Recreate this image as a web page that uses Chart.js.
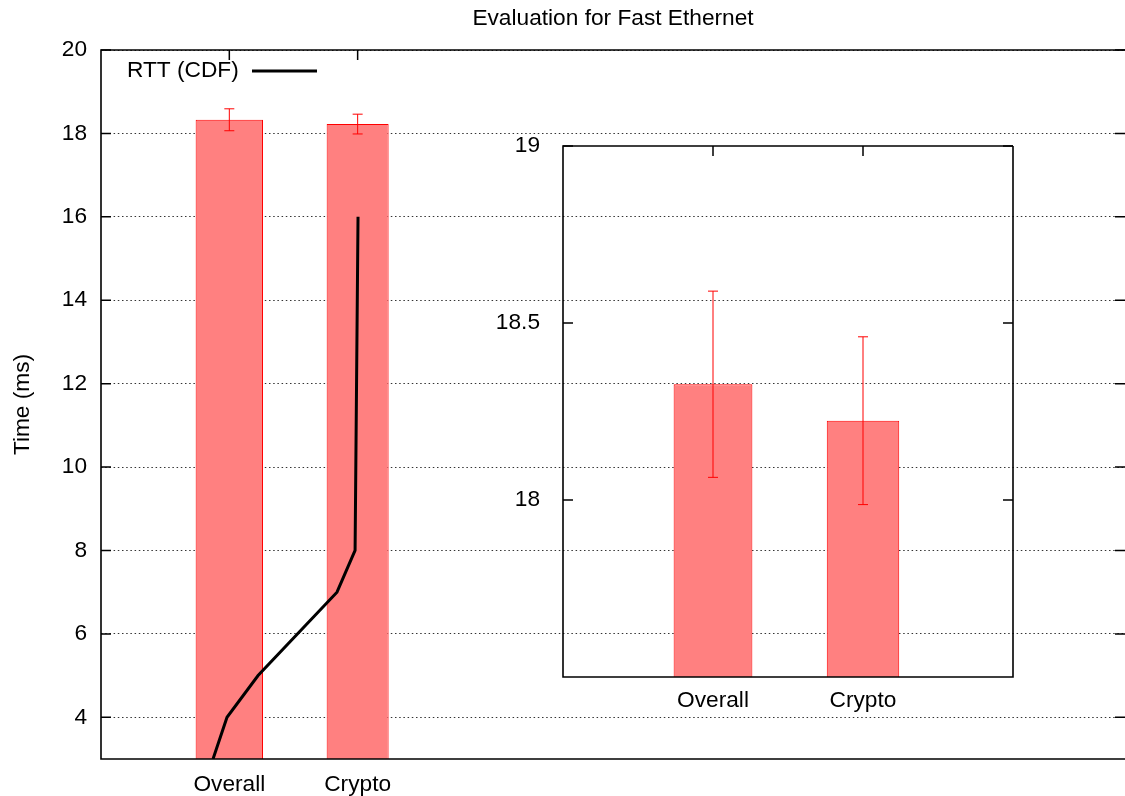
<!DOCTYPE html>
<html>
<head>
<meta charset="utf-8">
<title>Evaluation for Fast Ethernet</title>
<script src="https://cdn.jsdelivr.net/npm/chart.js@4.4.1/dist/chart.umd.min.js"></script>
<style>
  html, body { margin: 0; padding: 0; background: #fff; }
  #wrap { position: relative; width: 1125px; height: 796px; overflow: hidden; }
  #wrap canvas { position: absolute; left: 0; top: 0; }
</style>
</head>
<body>
<div id="wrap">
  <canvas id="main" width="1125" height="796"></canvas>
  <canvas id="inset" width="1125" height="796"></canvas>
</div>
<script>
// ---- data ----
const categories = ['Overall', 'Crypto'];
const categoryX = [1, 2];
const meanTime = [18.327, 18.224];     // mean RTT (ms)
const errTime = [0.263, 0.237];        // error bar half-length (ms)
const cdfX = [0.873, 0.982, 1.224, 1.839, 1.980, 2.003];
const cdfY = [3, 4, 5, 7, 8, 16];
const mainYTicks = [4, 6, 8, 10, 12, 14, 16, 18, 20];
const insetYTicks = [18, 18.5, 19];

// ---- styles ----
const FONT_FAMILY = "'Liberation Sans', Arial, Helvetica, sans-serif";
const FONT_SIZE = 22.7;
const FONT = { family: FONT_FAMILY, size: FONT_SIZE, weight: 'normal' };
const BAR_FILL = 'rgb(255,128,128)';
const BAR_EDGE = 'rgb(255,0,0)';
const BAR_FRACTION = [0.525, 0.483];
const TICK_LEN = 10;
const CAP_HALF = 5;

Chart.defaults.font.family = FONT_FAMILY;
Chart.defaults.color = '#000';

function barDatasets() {
  return categories.map((name, i) => ({
    type: 'bar',
    label: name,
    data: [{ x: categoryX[i], y: meanTime[i] }],
    backgroundColor: BAR_FILL,
    borderColor: BAR_EDGE,
    borderWidth: 1,
    borderSkipped: 'start',
    grouped: false,
    categoryPercentage: 1,
    barPercentage: BAR_FRACTION[i]
  }));
}

// inward tick marks, error bars, frame and (optionally) the key
function framePlugin(opts) {
  return {
    id: 'frame',
    beforeDatasetsDraw(chart) {
      const { ctx, chartArea: a, scales: { x, y } } = chart;
      ctx.save();
      ctx.strokeStyle = '#000';
      ctx.lineWidth = 1.5;
      ctx.beginPath();
      y.ticks.forEach(t => {
        const py = y.getPixelForValue(t.value);
        ctx.moveTo(a.left, py); ctx.lineTo(a.left + TICK_LEN, py);
        ctx.moveTo(a.right, py); ctx.lineTo(a.right - TICK_LEN, py);
      });
      x.ticks.forEach(t => {
        const px = x.getPixelForValue(t.value);
        ctx.moveTo(px, a.top); ctx.lineTo(px, a.top + TICK_LEN);
        ctx.moveTo(px, a.bottom); ctx.lineTo(px, a.bottom - TICK_LEN);
      });
      ctx.stroke();
      ctx.restore();
    },
    afterDatasetsDraw(chart) {
      const { ctx, chartArea: a, scales: { x, y } } = chart;
      ctx.save();
      // error bars
      ctx.strokeStyle = BAR_EDGE;
      ctx.lineWidth = 1;
      ctx.beginPath();
      categoryX.forEach((cx, i) => {
        const px = x.getPixelForValue(cx);
        const yHi = y.getPixelForValue(meanTime[i] + errTime[i]);
        const yLo = y.getPixelForValue(meanTime[i] - errTime[i]);
        ctx.moveTo(px, yHi); ctx.lineTo(px, yLo);
        ctx.moveTo(px - CAP_HALF, yHi); ctx.lineTo(px + CAP_HALF, yHi);
        ctx.moveTo(px - CAP_HALF, yLo); ctx.lineTo(px + CAP_HALF, yLo);
      });
      ctx.stroke();
      // frame
      ctx.strokeStyle = '#000';
      ctx.lineWidth = 1.6;
      ctx.beginPath();
      ctx.moveTo(a.right, a.top); ctx.lineTo(a.left, a.top);
      ctx.lineTo(a.left, a.bottom); ctx.lineTo(a.right, a.bottom);
      if (opts.closeRight) ctx.lineTo(a.right, a.top);
      ctx.stroke();
      // key
      if (opts.key) {
        const ky = a.top + 21;
        ctx.fillStyle = '#000';
        ctx.font = `${FONT_SIZE}px ${FONT_FAMILY}`;
        ctx.textAlign = 'left';
        ctx.textBaseline = 'middle';
        ctx.fillText(opts.key, a.left + 26, ky);
        ctx.lineWidth = 3;
        ctx.beginPath();
        ctx.moveTo(a.left + 151, ky); ctx.lineTo(a.left + 216, ky);
        ctx.stroke();
      }
      ctx.restore();
    }
  };
}

// ---- main chart ----
new Chart(document.getElementById('main'), {
  type: 'bar',
  data: {
    datasets: [
      ...barDatasets(),
      {
        type: 'line',
        label: 'RTT (CDF)',
        data: cdfX.map((v, i) => ({ x: v, y: cdfY[i] })),
        borderColor: '#000',
        borderWidth: 3,
        pointRadius: 0,
        tension: 0,
        fill: false,
        order: -1
      }
    ]
  },
  options: {
    responsive: false,
    animation: false,
    devicePixelRatio: 1,
    layout: { padding: 0 },
    plugins: {
      legend: { display: false },
      tooltip: { enabled: false },
      title: {
        display: true,
        text: 'Evaluation for Fast Ethernet',
        fullSize: false,
        color: '#000',
        font: FONT,
        padding: { top: 5, bottom: 17.76 }
      }
    },
    scales: {
      x: {
        type: 'linear',
        min: 0,
        max: 7.98,
        offset: false,
        grid: { display: false },
        border: { display: false },
        afterBuildTicks: s => { s.ticks = categoryX.map(v => ({ value: v })); },
        ticks: {
          callback: (v, i) => categories[i],
          color: '#000',
          font: FONT,
          padding: 4,
          maxRotation: 0,
          autoSkip: false
        },
        afterFit: s => { s.height = 37; }
      },
      y: {
        type: 'linear',
        min: 3,
        max: 20,
        afterBuildTicks: s => { s.ticks = mainYTicks.map(v => ({ value: v })); },
        grid: { color: 'rgba(0,0,0,0.8)', lineWidth: 1, drawTicks: false },
        border: { display: false, dash: [1.5, 2.7] },
        ticks: { color: '#000', font: FONT, padding: 14, callback: v => String(v) },
        title: {
          display: true,
          text: 'Time (ms)',
          color: '#000',
          font: FONT,
          padding: { top: 9.5, bottom: 0 }
        },
        afterFit: s => { s.width = 101; }
      }
    }
  },
  plugins: [framePlugin({ key: 'RTT (CDF)', closeRight: false })]
});

// ---- zoomed inset ----
new Chart(document.getElementById('inset'), {
  type: 'bar',
  data: { datasets: barDatasets() },
  options: {
    responsive: false,
    animation: false,
    devicePixelRatio: 1,
    layout: { padding: { left: 463, top: 146, right: 112, bottom: 79 } },
    plugins: { legend: { display: false }, tooltip: { enabled: false }, title: { display: false } },
    scales: {
      x: {
        type: 'linear',
        min: 0,
        max: 3,
        offset: false,
        grid: { display: false },
        border: { display: false },
        afterBuildTicks: s => { s.ticks = categoryX.map(v => ({ value: v })); },
        ticks: {
          callback: (v, i) => categories[i],
          color: '#000',
          font: FONT,
          padding: 2,
          maxRotation: 0,
          autoSkip: false
        },
        afterFit: s => { s.height = 40; }
      },
      y: {
        type: 'linear',
        min: 17.5,
        max: 19,
        afterBuildTicks: s => { s.ticks = insetYTicks.map(v => ({ value: v })); },
        grid: { display: false },
        border: { display: false },
        ticks: { color: '#000', font: FONT, padding: 15, callback: v => String(v) },
        afterFit: s => { s.width = 100; }
      }
    }
  },
  plugins: [framePlugin({ closeRight: true })]
});
</script>
</body>
</html>
